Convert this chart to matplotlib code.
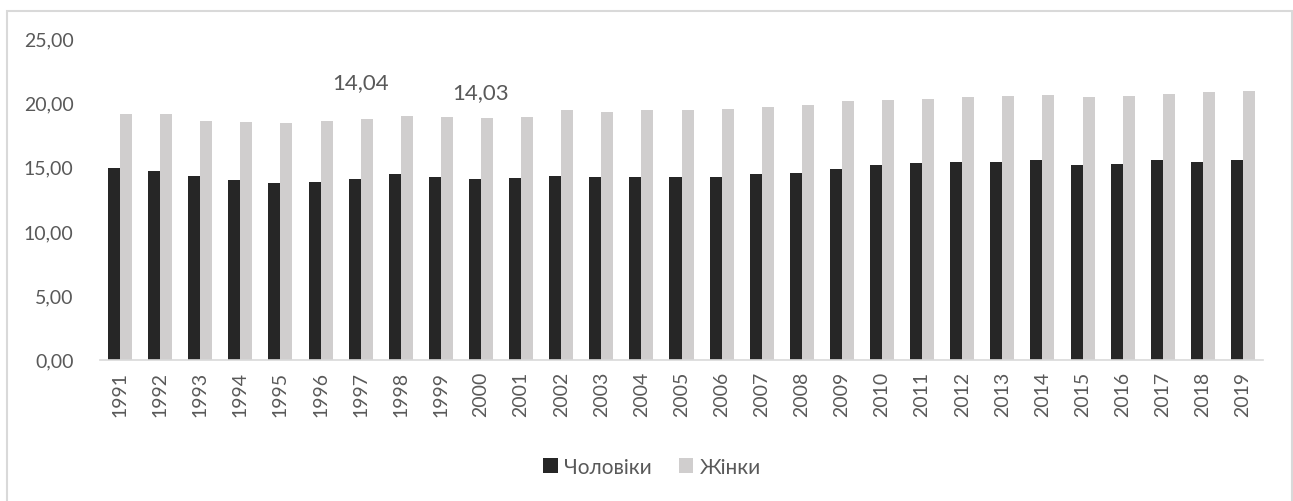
import matplotlib
matplotlib.use("Agg")
import matplotlib.pyplot as plt
import numpy as np
from matplotlib.patches import Rectangle

plt.rcParams['font.family'] = ['Lato', 'Open Sans', 'DejaVu Sans']

years = [str(y) for y in range(1991, 2020)]
men = [14.87, 14.68, 14.29, 13.98, 13.70, 13.78, 14.04, 14.40, 14.19, 14.03,
       14.09, 14.29, 14.19, 14.19, 14.19, 14.19, 14.40, 14.48, 14.79, 15.10,
       15.26, 15.38, 15.38, 15.49, 15.10, 15.18, 15.49, 15.38, 15.49]
women = [19.07, 19.07, 18.57, 18.47, 18.37, 18.57, 18.68, 18.96, 18.88, 18.78,
         18.88, 19.37, 19.27, 19.37, 19.37, 19.48, 19.66, 19.77, 20.08, 20.18,
         20.28, 20.39, 20.47, 20.57, 20.39, 20.47, 20.67, 20.78, 20.88]
series_names = ['Чоловіки', 'Жінки']
annot_years = ['1997', '2000']
annot_texts = ['14,04', '14,03']
annot_y = [21.58, 20.8]

W, H = 1293, 502
fig = plt.figure(figsize=(W / 100, H / 100), dpi=100)
ax = fig.add_axes([100 / W, 1 - 360.5 / H, (1263 - 100) / W, (360.5 - 39) / H])

x = np.arange(len(years))
bw = 0.3
text_col = '#595959'
ax.bar(x - bw / 2, men, width=bw, color='#262626', label=series_names[0], zorder=2)
ax.bar(x + bw / 2, women, width=bw, color='#d0cece', label=series_names[1], zorder=2)

ax.set_xlim(-0.5, len(years) - 0.5)
ax.set_ylim(0, 25)
ax.set_yticks(np.arange(0, 25.01, 5))
ax.set_yticklabels([f"{v:.2f}".replace('.', ',') for v in np.arange(0, 25.01, 5)])
ax.set_xticks(x)
ax.set_xticklabels(years, rotation=90)
ax.tick_params(axis='both', length=0, labelsize=14, colors=text_col)
ax.tick_params(axis='y', pad=19)
ax.tick_params(axis='x', pad=8)
for s in ['top', 'right', 'left']:
    ax.spines[s].set_visible(False)
ax.spines['bottom'].set_color('#d9d9d9')
ax.spines['bottom'].set_linewidth(1.2)

for yr, t, yv in zip(annot_years, annot_texts, annot_y):
    ax.text(years.index(yr), yv, t, ha='center', va='center', fontsize=16, color=text_col)

leg = fig.legend(loc='center', bbox_to_anchor=(652 / W, 1 - 468 / H), ncol=2, frameon=False,
                 fontsize=15, handlelength=0.7, handleheight=0.7, columnspacing=1.3,
                 handletextpad=0.3)
for t in leg.get_texts():
    t.set_color(text_col)

fig.patches.append(Rectangle((7 / W, -0.1), (1292 - 7) / W, 1 - 11.5 / H + 0.1,
                             transform=fig.transFigure, fill=False, edgecolor='#d9d9d9',
                             linewidth=1.5))

fig.savefig('out.png', dpi=100)
